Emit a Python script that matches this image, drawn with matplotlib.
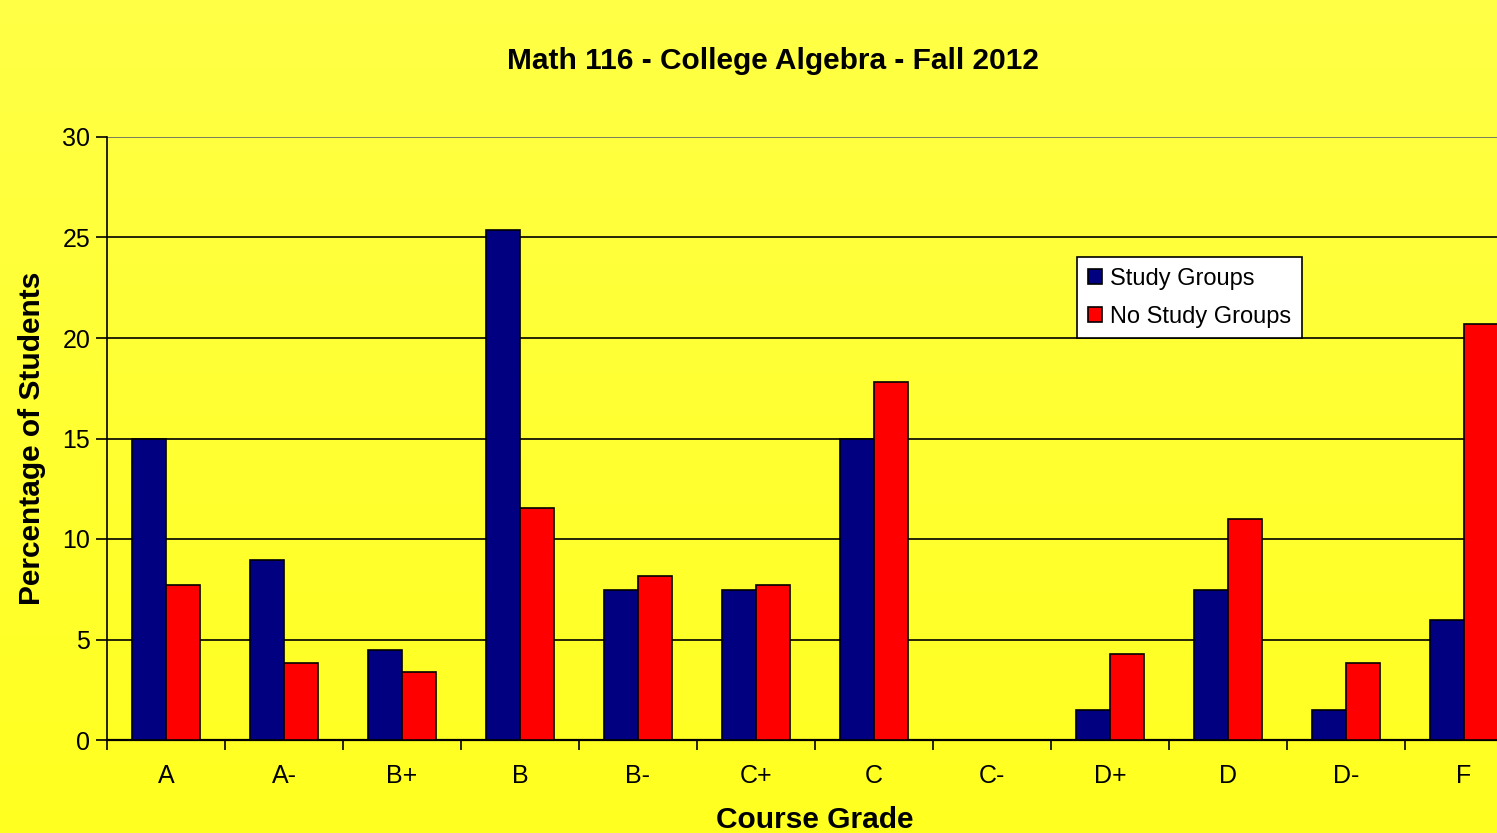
import numpy as np
import matplotlib
matplotlib.use("Agg")
import matplotlib.pyplot as plt
from matplotlib.colors import LinearSegmentedColormap

plt.rcParams['font.family'] = ['Liberation Sans', 'DejaVu Sans']

grades = ["A", "A-", "B+", "B", "B-", "C+", "C", "C-", "D+", "D", "D-", "F"]
study_groups = [15.0, 8.96, 4.48, 25.37, 7.46, 7.46, 15.0, 0.0, 1.49, 7.46, 1.49, 5.97]
no_study_groups = [7.7, 3.85, 3.4, 11.54, 8.15, 7.7, 17.8, 0.0, 4.3, 11.0, 3.85, 20.7]
series_names = ["Study Groups", "No Study Groups"]
colors = ["#000080", "#FF0000"]
yticks = [0, 5, 10, 15, 20, 25, 30]

fig = plt.figure(figsize=(14.97, 8.33), dpi=100)

# background gradient
bg = fig.add_axes([0, 0, 1, 1], zorder=-10)
grad = np.linspace(0, 1, 256).reshape(-1, 1)
cmap = LinearSegmentedColormap.from_list("bgy", ["#FFFF46", "#FFFF20"])
bg.imshow(grad, aspect='auto', cmap=cmap, extent=[0, 1, 0, 1], origin='upper')
bg.axis('off')

ax = fig.add_axes([107/1497, (833-740)/833, 1416/1497, (740-137)/833])
ax.patch.set_alpha(0)

x = np.arange(len(grades))
w = 0.29
ax.bar(x - w/2, study_groups, w, color=colors[0], edgecolor='black', linewidth=1.2, label=series_names[0], zorder=3)
ax.bar(x + w/2, no_study_groups, w, color=colors[1], edgecolor='black', linewidth=1.2, label=series_names[1], zorder=3)

ax.set_xlim(-0.5, len(grades) - 0.5)
ax.set_ylim(0, 30)
ax.set_yticks(yticks)
ax.yaxis.grid(True, color='black', linewidth=1.2, zorder=0)
ax.set_axisbelow(True)
ax.get_ygridlines()[-1].set_color('#666666')

ax.set_xticks(np.arange(len(grades) + 1) - 0.5)
ax.set_xticklabels([])
ax.set_xticks(x, minor=True)
ax.set_xticklabels(grades, minor=True, fontsize=18)
ax.tick_params(axis='x', which='major', direction='out', length=7, width=1.2, color='black')
ax.tick_params(axis='x', which='minor', length=0, pad=17)
ax.tick_params(axis='y', direction='out', length=8, width=1.2, labelsize=18, pad=4)

for s in ['top', 'right']:
    ax.spines[s].set_visible(False)
ax.spines['left'].set_linewidth(1.2)
ax.spines['bottom'].set_linewidth(1.6)

ax.set_xlabel("Course Grade", fontsize=21.5, fontweight='bold', labelpad=13)
ax.set_ylabel("Percentage of Students", fontsize=21.5, fontweight='bold', labelpad=12)

fig.text(773/1497, 1 - 61/833, "Math 116 - College Algebra - Fall 2012", ha='center', va='center',
         fontsize=21.5, fontweight='bold')

leg = ax.legend(loc='upper left', bbox_to_anchor=((1077-107)/1416, 1 - (257-137)/603),
                fontsize=17, frameon=True, fancybox=False, edgecolor='black', framealpha=1,
                handlelength=0.6, handleheight=0.6, handletextpad=0.35, borderpad=0.45,
                labelspacing=0.68, borderaxespad=0)
leg.get_frame().set_linewidth(1.2)

fig.savefig("out.png", dpi=100)
